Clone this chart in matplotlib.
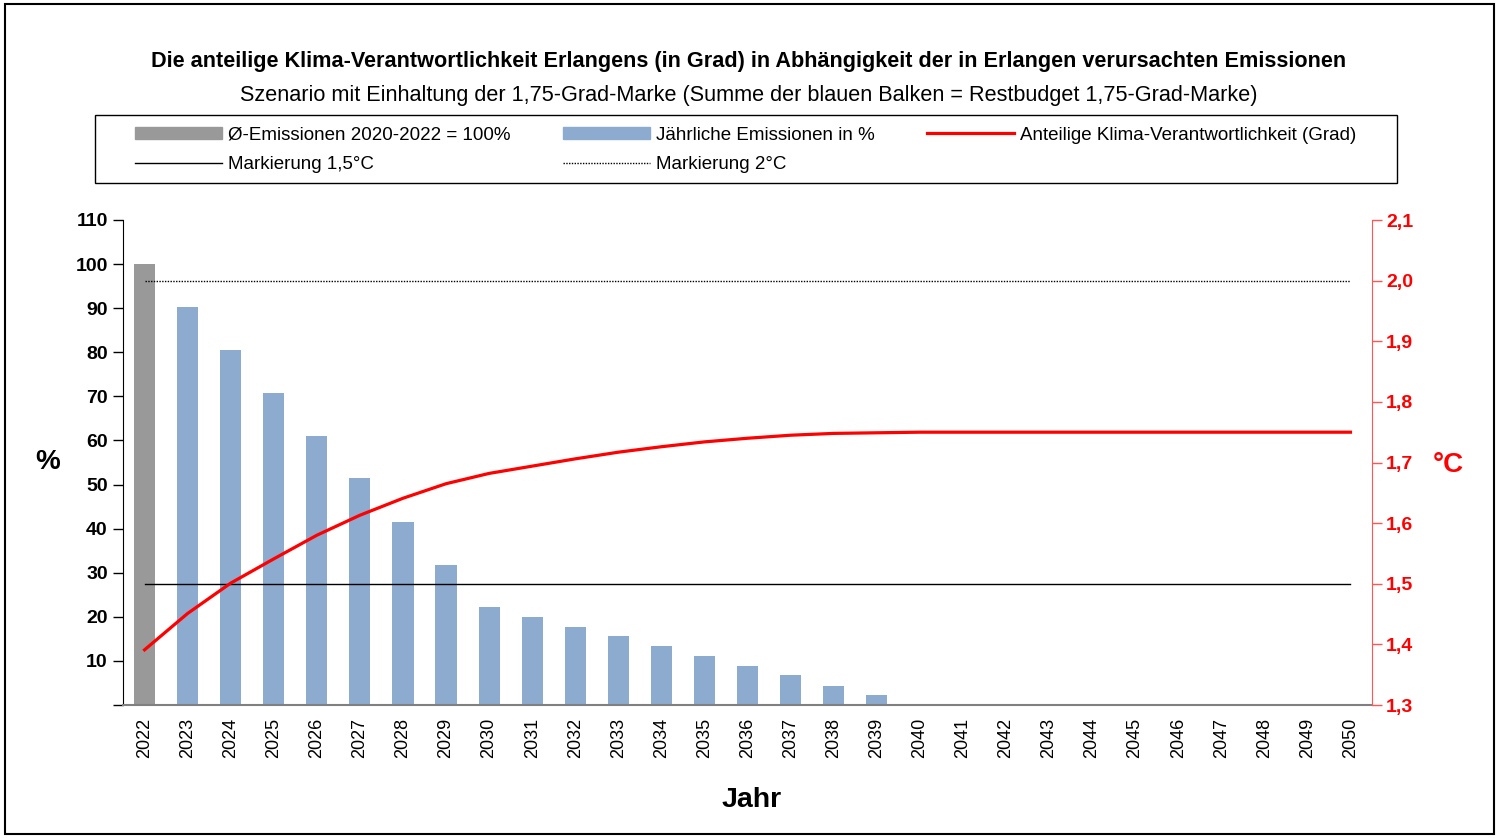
import numpy as np
import matplotlib
matplotlib.use('Agg')
import matplotlib.pyplot as plt
from matplotlib.patches import Patch, Rectangle
from matplotlib.lines import Line2D

plt.rcParams['font.family'] = ['Liberation Sans', 'DejaVu Sans']

# data
years = [str(y) for y in range(2022, 2051)]
base_emissions = [100] + [0] * 28          # grey bar, 2022 only
yearly_emissions = [0, 90.3, 80.6, 70.8, 61.1, 51.4, 41.6, 31.8, 22.2, 20.0,
                    17.8, 15.6, 13.4, 11.1, 8.9, 6.7, 4.4, 2.2] + [0] * 11
responsibility = [1.391, 1.451, 1.501, 1.541, 1.580, 1.613, 1.641, 1.665, 1.682,
                  1.694, 1.706, 1.717, 1.726, 1.734, 1.740, 1.745, 1.748, 1.749] + [1.750] * 11
mark_15 = [1.5] * 29
mark_20 = [2.0] * 29

grey = '#999999'
blue = '#8cabcf'
red = '#ff0000'

fig = plt.figure(figsize=(14.98, 8.38), dpi=100)
fig.patches.append(Rectangle((5 / 1498, 4 / 838), 1489 / 1498, 830 / 838, transform=fig.transFigure,
                             fill=False, edgecolor='black', linewidth=1.5))

ax = fig.add_axes([123 / 1498, 1 - 705 / 838, 1249 / 1498, 485 / 838])
ax2 = ax.twinx()

x = np.arange(len(years))
ax.bar(x, base_emissions, width=0.49, color=grey, zorder=2)
ax.bar(x, yearly_emissions, width=0.49, color=blue, zorder=2)

ax2.plot(x, mark_15, color='black', linewidth=1)
ax2.plot(x, mark_20, color='black', linewidth=1, linestyle=(0, (1, 1)))
ax2.plot(x, responsibility, color=red, linewidth=2.3)

ax.set_xlim(-0.5, len(years) - 0.5)
ax.set_ylim(0, 110)
ax.set_yticks(np.arange(0, 111, 10))
ax.set_yticklabels([''] + [str(v) for v in range(10, 111, 10)], fontsize=14, fontweight='bold')
ax.tick_params(axis='y', direction='out', length=7, width=1, pad=4)
ax.set_xticks(x)
ax.set_xticklabels(years, rotation=90, fontsize=13)
ax.tick_params(axis='x', length=0, pad=9.5)

ax2.set_ylim(1.3, 2.1)
ax2.set_yticks(np.arange(1.3, 2.11, 0.1))
ax2.set_yticklabels([f'{v:.1f}'.replace('.', ',') for v in np.arange(1.3, 2.11, 0.1)],
                    fontsize=14, fontweight='bold', color=red)
ax2.tick_params(axis='y', direction='out', length=7, width=1, color='#ff5555', pad=3)

for a in (ax, ax2):
    a.spines['top'].set_visible(False)
ax.spines['right'].set_visible(False)
ax2.spines['left'].set_visible(False)
ax2.spines['bottom'].set_visible(False)
ax2.spines['right'].set_color('#ff5555')
ax.spines['bottom'].set_color('#808080')
ax.spines['bottom'].set_linewidth(1.5)

fig.text(48 / 1498, 1 - 462 / 838, '%', fontsize=20, fontweight='bold', ha='center', va='center')
fig.text(1448 / 1498, 1 - 465 / 838, '°C', fontsize=20, fontweight='bold', color=red, ha='center', va='center')
fig.text(752 / 1498, 1 - 800 / 838, 'Jahr', fontsize=20.5, fontweight='bold', ha='center', va='center')

fig.text(749 / 1498, 1 - 62 / 838,
         'Die anteilige Klima-Verantwortlichkeit Erlangens (in Grad) in Abhängigkeit der in Erlangen verursachten Emissionen',
         fontsize=15.6, fontweight='bold', ha='center', va='center')
fig.text(749 / 1498, 1 - 96 / 838,
         'Szenario mit Einhaltung der 1,75-Grad-Marke (Summe der blauen Balken = Restbudget 1,75-Grad-Marke)',
         fontsize=15.6, ha='center', va='center')

# legend frame drawn separately, entries through legend
fig.patches.append(Rectangle((95 / 1498, 1 - 183 / 838), 1302 / 1498, 68 / 838, transform=fig.transFigure,
                             fill=False, edgecolor='black', linewidth=1))
handles = [Patch(color=grey), Line2D([], [], color='black', linewidth=1),
           Patch(color=blue), Line2D([], [], color='black', linewidth=1, linestyle=(0, (1, 1))),
           Line2D([], [], color=red, linewidth=2.3)]
labels = ['Ø-Emissionen 2020-2022 = 100%', 'Markierung 1,5°C',
          'Jährliche Emissionen in %', 'Markierung 2°C',
          'Anteilige Klima-Verantwortlichkeit (Grad)']
fig.legend(handles, labels, ncol=3, frameon=False, fontsize=13.5,
           loc='center left', bbox_to_anchor=(135 / 1498, 1 - 150 / 838),
           handlelength=4.64, handleheight=0.65, handletextpad=0.32, columnspacing=2.8,
           labelspacing=0.68, borderpad=0, borderaxespad=0)

fig.savefig('out.png', dpi=100)
